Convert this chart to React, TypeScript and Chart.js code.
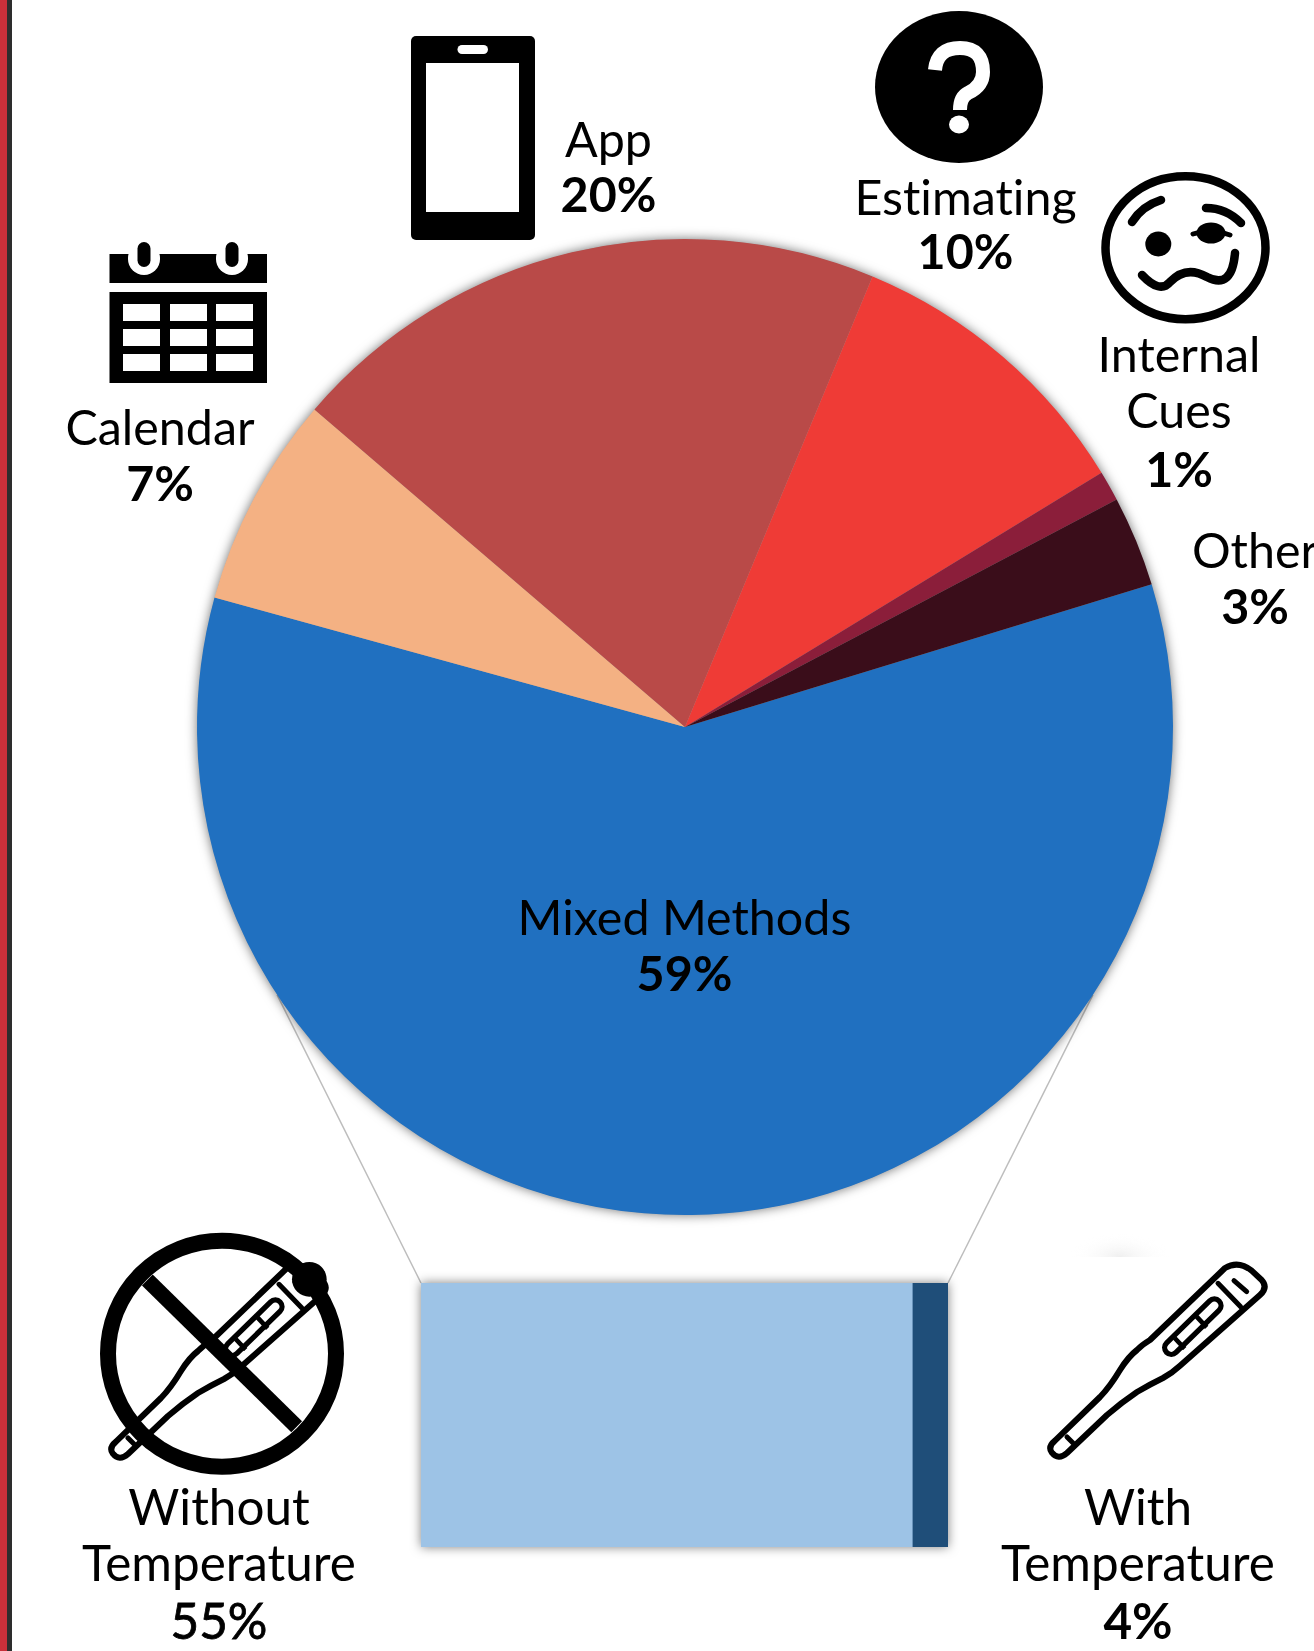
import React, { useEffect, useRef } from "react";
import { Chart, registerables } from "chart.js";

Chart.register(...registerables);

// Share of respondents by tracking method
const categories = ["Mixed Methods", "Calendar", "App", "Estimating", "Internal Cues", "Other"];
const shares = [59, 7, 20, 10, 1, 3];
const sliceColors = ["#2070C0", "#F4B183", "#B94A48", "#EF3B36", "#8B1E3A", "#3A0D1A"];

// Breakdown of the mixed-methods slice
const subCategories = ["Without Temperature", "With Temperature"];
const subShares = [55, 4];
const subColors = ["#9DC3E6", "#1F4E79"];

const FONT = "Lato";
const SLICE_TEXT_SIZE = 48.4;
const SUB_TEXT_SIZE = 49.4;

// Label anchors: centre x and the baseline of each line, slice name lines first, then the share
const sliceLabelSpots = [
  { x: 684.5, lines: ["Mixed Methods"], baselines: [934.5, 990.5] },
  { x: 160, lines: ["Calendar"], baselines: [444.5, 501] },
  { x: 608.5, lines: ["App"], baselines: [156.5, 212] },
  { x: 965.5, lines: ["Estimating"], baselines: [214.5, 269] },
  { x: 1179, lines: ["Internal", "Cues"], baselines: [372, 428, 487] },
  { x: 1255, lines: ["Other"], baselines: [568, 624] },
];
const subLabelSpots = [
  { x: 219, lines: ["Without", "Temperature"], baselines: [1524.5, 1580.5, 1639], shareWeight: 400, shareStroke: 0.8 },
  { x: 1138, lines: ["With", "Temperature"], baselines: [1524.5, 1580.5, 1639], shareWeight: 700, shareStroke: 0 },
];

function drawLabel(ctx: CanvasRenderingContext2D, spot: any, share: number, size: number, weight: number, strokeW: number) {
  ctx.save();
  ctx.fillStyle = "#000";
  ctx.strokeStyle = "#000";
  ctx.textAlign = "center";
  ctx.textBaseline = "alphabetic";
  // A non-zero tracking value keeps the "ti" pair as two separate glyphs
  (ctx as any).letterSpacing = "0.01px";
  ctx.font = `400 ${size}px ${FONT}`;
  spot.lines.forEach((line: string, i: number) => ctx.fillText(line, spot.x, spot.baselines[i]));
  ctx.font = `${weight} ${size}px ${FONT}`;
  const y = spot.baselines[spot.lines.length];
  ctx.fillText(`${share}%`, spot.x, y);
  if (strokeW > 0) {
    ctx.lineWidth = strokeW;
    ctx.strokeText(`${share}%`, spot.x, y);
  }
  ctx.restore();
}

// Where the connectors leave the pie (degrees clockwise from 12 o'clock) and reach the bar
const connectorAngles = [123.3, 236.7];
const connectorEnds = [
  { x: 948, y: 1283 },
  { x: 421, y: 1283 },
];

const pieDecor = {
  id: "pieDecor",
  beforeDatasetsDraw(chart: any) {
    const { ctx } = chart;
    const arc = chart.getDatasetMeta(0).data[0];
    const { x, y, outerRadius } = arc.getProps(["x", "y", "outerRadius"], true);
    ctx.save();
    ctx.strokeStyle = "#BDBDBD";
    ctx.lineWidth = 1.5;
    connectorAngles.forEach((deg, i) => {
      const a = (deg * Math.PI) / 180;
      ctx.beginPath();
      ctx.moveTo(x + outerRadius * Math.sin(a), y - outerRadius * Math.cos(a));
      ctx.lineTo(connectorEnds[i].x, connectorEnds[i].y);
      ctx.stroke();
    });
    ctx.shadowColor = "rgba(0,0,0,0.6)";
    ctx.shadowBlur = 12;
    ctx.fillStyle = "#999";
    ctx.beginPath();
    ctx.arc(x, y, outerRadius - 0.5, 0, Math.PI * 2);
    ctx.fill();
    ctx.restore();
  },
  afterDatasetsDraw(chart: any) {
    const { ctx } = chart;
    sliceLabelSpots.forEach((spot, i) => drawLabel(ctx, spot, shares[i], SLICE_TEXT_SIZE, 700, 0));
    subLabelSpots.forEach((spot, i) =>
      drawLabel(ctx, spot, subShares[i], SUB_TEXT_SIZE, spot.shareWeight, spot.shareStroke)
    );
  },
};

const barShadow = {
  id: "barShadow",
  beforeDatasetsDraw(chart: any) {
    const { ctx, chartArea } = chart;
    ctx.save();
    ctx.shadowColor = "rgba(0,0,0,0.5)";
    ctx.shadowBlur = 10;
    ctx.fillStyle = subColors[0];
    ctx.fillRect(chartArea.left, chartArea.top, chartArea.width, chartArea.height);
    ctx.restore();
  },
};

function Thermometer({ dx = 0, dy = 0 }: { dx?: number; dy?: number }) {
  return (
    <g transform={`translate(${dx} ${dy})`} fill="none" stroke="#000" strokeLinecap="round" strokeLinejoin="round">
      <path
        strokeWidth={18}
        d="M1035 204 Q1075 180 1115 212 L1145 240 Q1165 262 1140 285 L900 497 Q875 520 849 534 Q810 553 771 576 Q725 607 681 645 L561 759 Q535 782 515 757 Q503 740 525 722 L660 591 Q690 560 720 510 Q745 470 771 450 Q785 435 810 420 Z"
      />
      <path strokeWidth={15} d="M1014 250 L1082 320 M1062 242 L1100 275 M561 711 L579 729" />
      <path strokeWidth={56} d="M1003 317 L874 443" />
      <path strokeWidth={24} stroke="#fff" d="M1003 317 L874 443" />
      <path strokeWidth={14} d="M950 350 L980 382 M884 414 L914 446" strokeLinecap="butt" />
    </g>
  );
}

function Icons() {
  return (
    <svg width={1314} height={1651} style={{ position: "absolute", left: 0, top: 0 }}>
      <defs>
        <radialGradient id="faintGlow">
          <stop offset="0%" stopColor="#EFEFEF" />
          <stop offset="100%" stopColor="#FFFFFF" stopOpacity={0} />
        </radialGradient>
        <clipPath id="faintClip">
          <rect x={1060} y={1225} width={120} height={32} />
        </clipPath>
      </defs>

      {/* page edge strip */}
      <rect x={0} y={0} width={7} height={1651} fill="#C9303A" />
      <rect x={7} y={0} width={5} height={1651} fill="#2D2D2D" />

      {/* leftover glow above the right thermometer */}
      <ellipse cx={1120} cy={1257} rx={50} ry={24} fill="url(#faintGlow)" clipPath="url(#faintClip)" />

      {/* phone */}
      <rect x={411} y={36} width={124} height={204} rx={5} fill="#000" />
      <rect x={426} y={63} width={93} height={149} fill="#fff" />
      <rect x={457.5} y={45} width={30.5} height={9} rx={4.5} fill="#fff" />

      {/* calendar */}
      <rect x={109.5} y={254} width={157.5} height={29} fill="#000" />
      <rect x={128} y={242} width={32} height={33} rx={16} fill="#fff" />
      <rect x={216} y={242} width={32} height={33} rx={16} fill="#fff" />
      <rect x={128} y={242} width={32} height={12} fill="#fff" />
      <rect x={216} y={242} width={32} height={12} fill="#fff" />
      <rect x={137.5} y={242} width={13} height={25} rx={6.5} fill="#000" />
      <rect x={225.5} y={242} width={13} height={25} rx={6.5} fill="#000" />
      <rect x={109.5} y={292} width={157.5} height={91} fill="#000" />
      {[304, 329, 354].map((y) =>
        [123, 170, 216].map((x) => <rect key={`${x}-${y}`} x={x} y={y} width={37} height={17} fill="#fff" />)
      )}

      {/* question mark */}
      <ellipse cx={959} cy={87} rx={84} ry={76} fill="#000" />
      <path
        d="M935 70 Q937 48 960 48 Q983 48 983 72 Q983 86 968 93 Q960 97 960 110"
        fill="none"
        stroke="#fff"
        strokeWidth={14}
      />
      <ellipse cx={959} cy={124.5} rx={10} ry={9} fill="#fff" />

      {/* woozy face */}
      <g fill="none" stroke="#000" strokeWidth={8.5} strokeLinecap="round">
        <ellipse cx={1185.5} cy={247.7} rx={80} ry={71.5} />
        <path d="M1132 222 Q1142 206 1161 200" />
        <path d="M1206 208 Q1226 208 1241 223" />
        <path d="M1193 234 Q1210 228 1230 235" strokeWidth={5} />
        <path d="M1142 275 Q1160 294 1170 282 Q1186 265 1207 277 Q1232 290 1235 253" />
      </g>
      <ellipse cx={1158.3} cy={244} rx={13} ry={12.5} fill="#000" />
      <ellipse cx={1211} cy={233} rx={14.5} ry={10.5} fill="#000" />

      {/* thermometer, crossed out */}
      <svg x={60} y={1200} width={400} height={451} viewBox="0 0 1200 1353">
        <Thermometer dx={-357} dy={3} />
        <ellipse cx={748} cy={238} rx={52} ry={52} fill="#000" />
        <ellipse cx={486} cy={461} rx={342} ry={339} fill="none" stroke="#000" strokeWidth={48} />
        <path d="M262 240 L710 680" stroke="#000" strokeWidth={46} />
      </svg>

      {/* thermometer */}
      <svg x={880} y={1200} width={434} height={451} viewBox="0 0 1302 1353">
        <Thermometer />
      </svg>
    </svg>
  );
}

export default function App() {
  const pieRef = useRef<HTMLCanvasElement>(null);
  const barRef = useRef<HTMLCanvasElement>(null);

  useEffect(() => {
    const pie = new Chart(pieRef.current!, {
      type: "pie",
      data: {
        labels: categories,
        datasets: [{ data: shares, backgroundColor: sliceColors, borderWidth: 0 }],
      },
      options: {
        responsive: false,
        animation: false,
        rotation: 73,
        layout: { padding: { left: 197, right: 141, top: 239, bottom: 436 } },
        plugins: { legend: { display: false }, tooltip: { enabled: false } },
      },
      plugins: [pieDecor],
    });

    const bar = new Chart(barRef.current!, {
      type: "bar",
      data: {
        labels: ["Mixed Methods"],
        datasets: subCategories.map((name, i) => ({
          label: name,
          data: [subShares[i]],
          backgroundColor: subColors[i],
          borderWidth: 0,
          barPercentage: 1,
          categoryPercentage: 1,
        })),
      },
      options: {
        indexAxis: "y",
        responsive: false,
        animation: false,
        layout: { padding: 12 },
        scales: {
          x: { stacked: true, display: false, min: 0, max: 59 },
          y: { stacked: true, display: false },
        },
        plugins: { legend: { display: false }, tooltip: { enabled: false } },
      },
      plugins: [barShadow],
    });

    return () => {
      pie.destroy();
      bar.destroy();
    };
  }, []);

  return (
    <div style={{ position: "absolute", left: 0, top: 0, width: 1314, height: 1651, overflow: "hidden", background: "#fff" }}>
      <canvas ref={pieRef} width={1314} height={1651} style={{ position: "absolute", left: 0, top: 0 }} />
      <canvas ref={barRef} width={551} height={288} style={{ position: "absolute", left: 409, top: 1271 }} />
      <Icons />
    </div>
  );
}
